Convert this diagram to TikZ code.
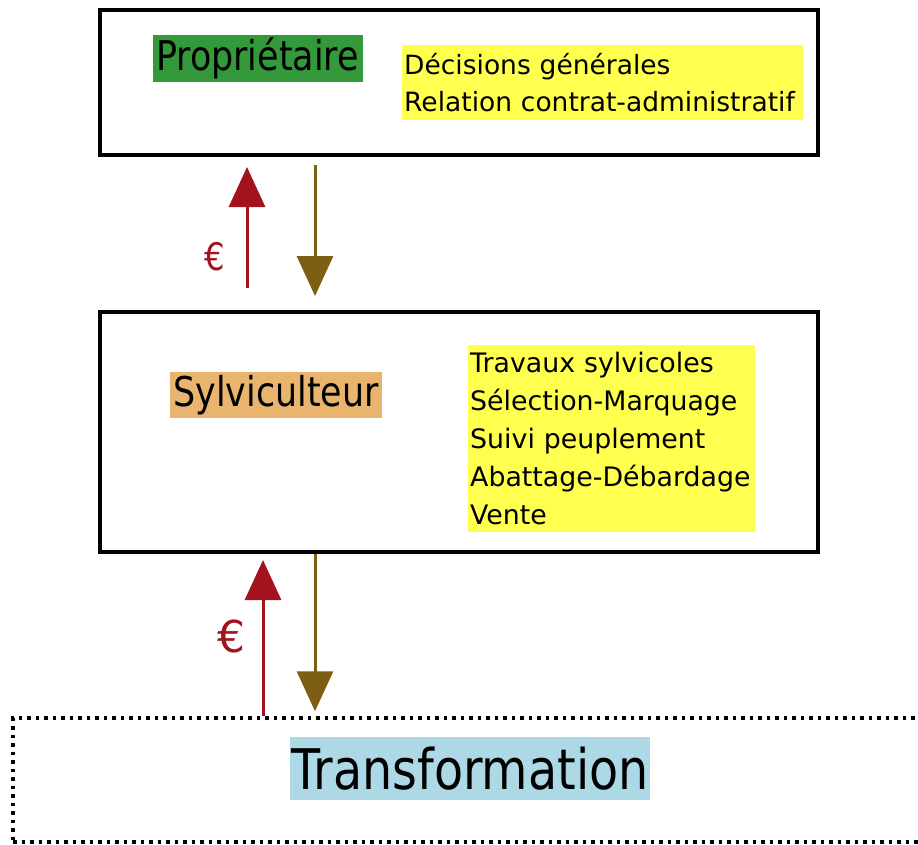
\documentclass[tikz,border=0pt]{standalone}
\usepackage{fontspec}
\usepackage{xcolor}
\usepackage{tikz}
\usetikzlibrary{positioning,shapes,arrows.meta}
\setmainfont{DejaVu Sans}
\newfontfamily\titlefont{DejaVu Sans}[FakeStretch=0.85]
\definecolor{moneyred}{HTML}{A3121F}
\definecolor{workbrown}{HTML}{7D5E12}
\definecolor{ownergreen}{HTML}{33993A}
\definecolor{foresttan}{HTML}{E8B46E}
\definecolor{taskyellow}{HTML}{FFFF50}
\definecolor{industryblue}{HTML}{ADD8E6}

\begin{document}
\begin{tikzpicture}[x=1pt, y=-1pt,
    frame/.style={draw, line width=4pt, rectangle, inner sep=0pt},
    dotframe/.style={draw, line width=3.5pt, dash pattern=on 3.5pt off 5pt, rectangle, inner sep=0pt},
    title/.style={inner sep=0pt, font=\titlefont\fontsize{41}{41}\selectfont},
    tasks/.style={fill=taskyellow, anchor=north west, align=left, inner xsep=2pt, inner ysep=0pt},
    money/.style={draw=moneyred, line width=3pt, -{Triangle[width=36pt,length=40pt]}, fill=moneyred},
    goods/.style={draw=workbrown, line width=3pt, -{Triangle[width=36pt,length=40pt]}, fill=workbrown}]
    \useasboundingbox (0,0) rectangle (918,844);
    \node[frame, minimum width=718pt, minimum height=145pt] (owner) at (459,82.5) {};
    \node[frame, minimum width=718pt, minimum height=240pt] (forester) at (459,432) {};
    \node[dotframe, minimum width=920pt, minimum height=124pt] (industry) at (473,780) {};
    \node[title, fill=ownergreen, minimum width=210pt, minimum height=47pt] (ownerlbl) at (257.5,58.5) {Propriétaire};
    \node[title, fill=foresttan, minimum width=212pt, minimum height=46pt] (foresterlbl) at (276,395) {Sylviculteur};
    \node[title, fill=industryblue, minimum width=360pt, minimum height=63pt,
        font=\titlefont\fontsize{56}{56}\selectfont] (industrylbl) at (470,768.5) {Transformation};
    \node[tasks, text width=397pt, minimum height=75pt, font=\fontsize{26.5}{37}\selectfont]
        (ownertasks) at (402,45) {Décisions générales\\Relation contrat-administratif};
    \node[tasks, text width=283pt, minimum height=187pt, font=\fontsize{26.8}{38}\selectfont]
        (forestertasks) at (468,345) {Travaux sylvicoles\\Sélection-Marquage\\Suivi peuplement\\Abattage-Débardage\\Vente};
    \draw[money, shorten <=22pt, shorten >=10pt] (forester.north -| 247,0) -- (owner.south -| 247,0);
    \draw[goods, shorten <=8pt, shorten >=14pt] (owner.south -| 315,0) -- (forester.north -| 315,0);
    \draw[money, shorten >=6pt] (industry.north -| 263,0) -- (forester.south -| 263,0);
    \draw[goods, shorten >=5pt] (forester.south -| 315,0) -- (industry.north -| 315,0);
    \node[text=moneyred, inner sep=0pt, font=\titlefont\fontsize{38}{38}\selectfont] (euroA) at (215,257) {€};
    \node[text=moneyred, inner sep=0pt, font=\fontsize{44}{44}\selectfont] (euroB) at (231,636) {€};
\end{tikzpicture}
\end{document}
